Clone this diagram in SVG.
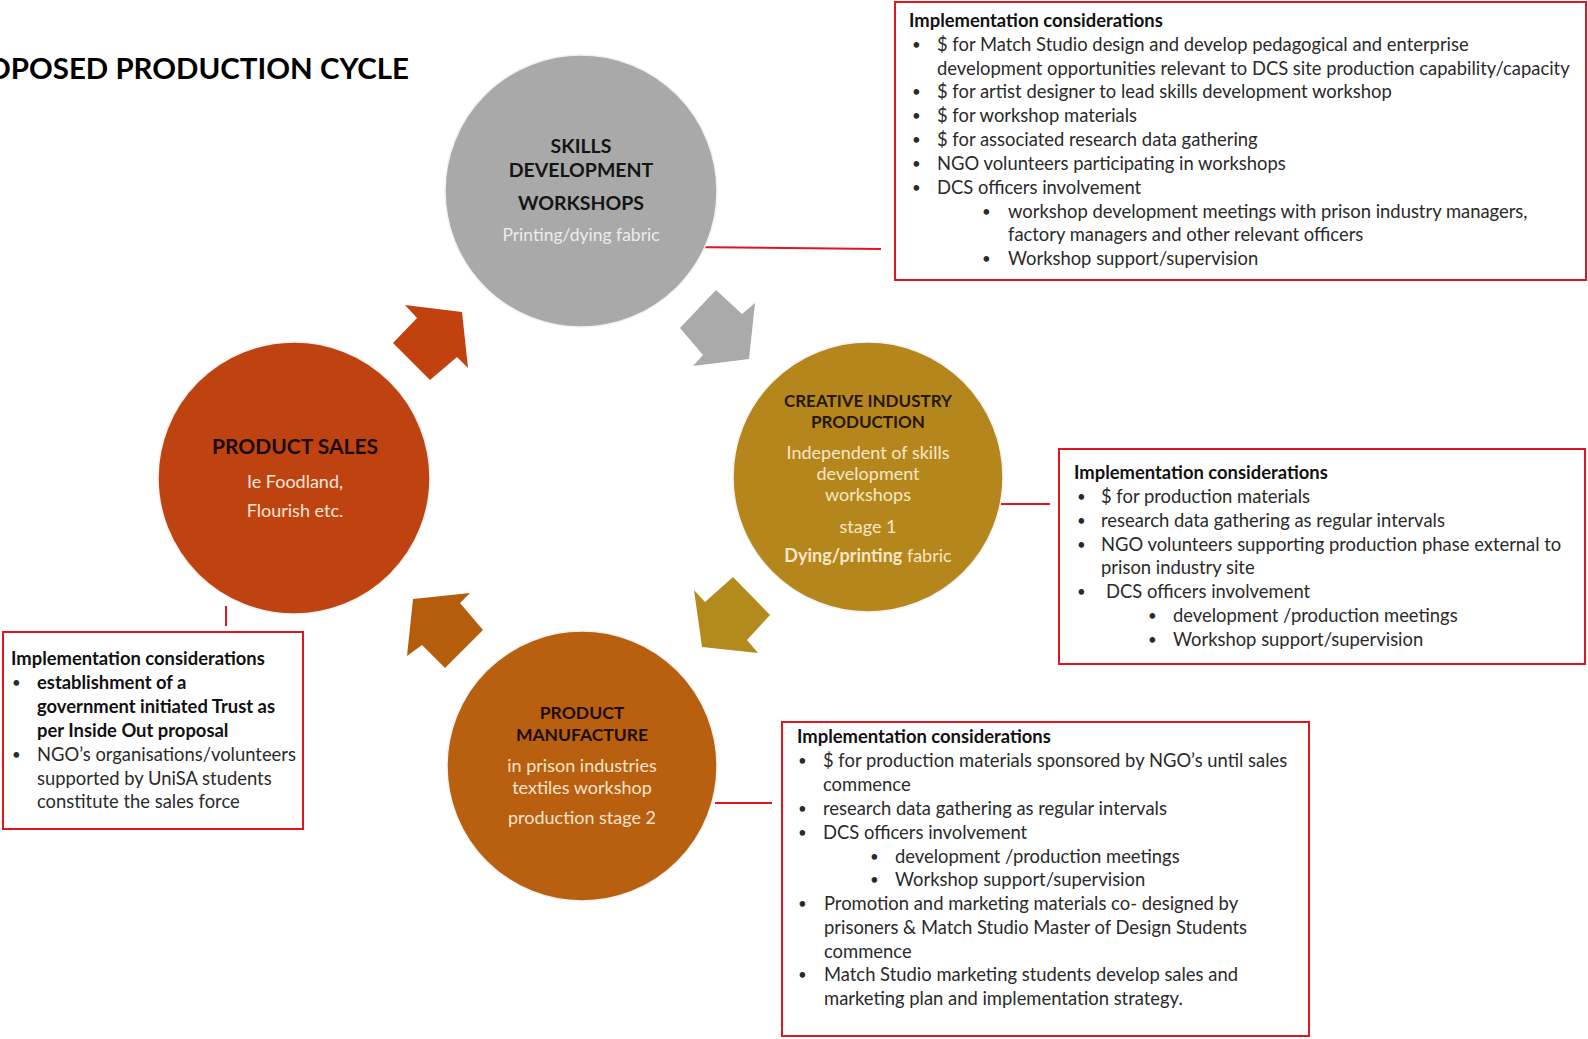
<svg xmlns="http://www.w3.org/2000/svg" width="1588" height="1039" viewBox="0 0 1588 1039">
<style>
.t{font-family:Lato,"Open Sans","Liberation Sans",sans-serif;}
.box{fill:#fff;stroke:#e3141c;stroke-width:2;}
.bt{font-family:Lato,"Liberation Sans",sans-serif;font-size:18.4px;fill:#2a2a2a;}
.bu{font-family:Lato,"Liberation Sans",sans-serif;font-size:15px;fill:#2a2a2a;}
.bh{font-weight:bold;fill:#111;}
.ch{font-family:Lato,"Liberation Sans",sans-serif;font-weight:bold;text-anchor:middle;}
.cb{font-family:Lato,"Liberation Sans",sans-serif;text-anchor:middle;}
.red{stroke:#e3141c;stroke-width:2;fill:none;}
.circ{stroke:#f2f2f2;stroke-width:1.5;}
</style>
<defs>
<clipPath id="clipSkill"><rect x="440" y="50" width="300" height="194"/></clipPath>
</defs>
<rect width="1588" height="1039" fill="#fff"/>

<text class="t" x="-50" y="79" font-size="28" font-weight="bold" fill="#000" textLength="459" lengthAdjust="spacingAndGlyphs">PROPOSED PRODUCTION CYCLE</text>

<g id="connectors">
<polygon id="arrow-sales-skills" points="405,305 462,312 468,368 457,357 430,380 393,343 417,318" fill="#c2410e"/>
<polygon id="arrow-skills-creative" points="716,290 742,314 755,303 749,359 693,366 703,355 680,328" fill="#aaaaaa"/>
<polygon id="arrow-creative-manufacture" points="733,577 770,615 747,640 758,653 702,647 694,590 705,602" fill="#b38b1d"/>
<polygon id="arrow-manufacture-sales" points="413,599 470,593 460,603 483,630 445,668 422,645 407,656" fill="#b65d0c"/>
<line class="red" x1="683" y1="247" x2="881" y2="249"/>
<line class="red" x1="998" y1="504" x2="1050" y2="504"/>
<line class="red" x1="715" y1="803" x2="772" y2="803"/>
<line class="red" x1="226" y1="606" x2="226" y2="626"/>
</g>

<g id="node-skills">
<circle class="circ" cx="581" cy="191" r="136" fill="#a9a9a9"/>
<text class="ch" x="581" y="153" font-size="19.5" fill="#151515">SKILLS</text>
<text class="ch" x="581" y="177" font-size="19.5" fill="#151515">DEVELOPMENT</text>
<text class="ch" x="581" y="210" font-size="19.5" fill="#151515">WORKSHOPS</text>
<text class="cb" x="581" y="241" font-size="17.5" fill="#ffffff" fill-opacity="0.8" clip-path="url(#clipSkill)">Printing/dying fabric</text>
</g>

<g id="node-creative">
<circle class="circ" cx="868" cy="477" r="135" fill="#b5861c"/>
<text class="ch" x="868" y="407" font-size="17" fill="#241705">CREATIVE INDUSTRY</text>
<text class="ch" x="868" y="428" font-size="17" fill="#241705">PRODUCTION</text>
<text class="cb" x="868" y="459" font-size="18" fill="#f6e7c6">Independent of skills</text>
<text class="cb" x="868" y="480" font-size="18" fill="#f6e7c6">development</text>
<text class="cb" x="868" y="501" font-size="18" fill="#f6e7c6">workshops</text>
<text class="cb" x="868" y="533" font-size="18" fill="#f6e7c6">stage 1</text>
<text class="cb" x="868" y="562" font-size="18" fill="#f6e7c6"><tspan font-weight="bold">Dying/printing</tspan>  fabric</text>
</g>

<g id="node-sales">
<circle class="circ" cx="294" cy="478" r="136" fill="#bf4311"/>
<text class="ch" x="295" y="454" font-size="21" fill="#1a0a02">PRODUCT SALES</text>
<text class="cb" x="295" y="488" font-size="18" fill="#fbe6d8">Ie Foodland,</text>
<text class="cb" x="295" y="517" font-size="18" fill="#fbe6d8">Flourish etc.</text>
</g>

<g id="node-manufacture">
<circle class="circ" cx="582" cy="766" r="135" fill="#b95f10"/>
<text class="ch" x="582" y="719" font-size="17.5" fill="#1c0e02">PRODUCT</text>
<text class="ch" x="582" y="741" font-size="17.5" fill="#1c0e02">MANUFACTURE</text>
<text class="cb" x="582" y="772" font-size="18" fill="#f8e4cc">in prison industries</text>
<text class="cb" x="582" y="794" font-size="18" fill="#f8e4cc">textiles workshop</text>
<text class="cb" x="582" y="824" font-size="18" fill="#f8e4cc">production stage 2</text>
</g>

<g id="box-skills">
<rect class="box" x="895" y="2" width="691" height="278"/>
<text class="bt" x="909" y="27"><tspan class="bh">Implementation considerations</tspan></text>
<text class="bu" x="912" y="50">•</text><text class="bt" x="937" y="51">$ for Match Studio design and develop pedagogical and  enterprise</text>
<text class="bt" x="937" y="75">development opportunities relevant to DCS site production capability/capacity</text>
<text class="bu" x="912" y="97">•</text><text class="bt" x="937" y="98">$ for artist designer to lead skills development workshop</text>
<text class="bu" x="912" y="121">•</text><text class="bt" x="937" y="122">$ for workshop materials</text>
<text class="bu" x="912" y="145">•</text><text class="bt" x="937" y="146">$ for associated research data gathering</text>
<text class="bu" x="912" y="169">•</text><text class="bt" x="937" y="170">NGO volunteers participating in workshops</text>
<text class="bu" x="912" y="193">•</text><text class="bt" x="937" y="194">DCS officers involvement</text>
<text class="bu" x="982" y="217">•</text><text class="bt" x="1008" y="218">workshop development meetings with prison industry managers,</text>
<text class="bt" x="1008" y="241">factory managers and other relevant officers</text>
<text class="bu" x="982" y="264">•</text><text class="bt" x="1008" y="265">Workshop support/supervision</text>
</g>

<g id="box-creative">
<rect class="box" x="1059" y="449" width="526" height="215"/>
<text class="bt" x="1074" y="479"><tspan class="bh">Implementation considerations</tspan></text>
<text class="bu" x="1077" y="502">•</text><text class="bt" x="1101" y="503">$ for production  materials</text>
<text class="bu" x="1077" y="526">•</text><text class="bt" x="1101" y="527">research data gathering as regular intervals</text>
<text class="bu" x="1077" y="550">•</text><text class="bt" x="1101" y="551">NGO volunteers supporting production phase external to</text>
<text class="bt" x="1101" y="574">prison industry site</text>
<text class="bu" x="1077" y="597">•</text><text class="bt" x="1106" y="598">DCS officers involvement</text>
<text class="bu" x="1148" y="621">•</text><text class="bt" x="1173" y="622">development /production meetings</text>
<text class="bu" x="1148" y="645">•</text><text class="bt" x="1173" y="646">Workshop support/supervision</text>
</g>

<g id="box-manufacture">
<rect class="box" x="782" y="722" width="527" height="314"/>
<text class="bt" x="797" y="743"><tspan class="bh">Implementation considerations</tspan></text>
<text class="bu" x="798" y="766">•</text><text class="bt" x="823" y="767">$ for production  materials sponsored by NGO’s until sales</text>
<text class="bt" x="823" y="791">commence</text>
<text class="bu" x="798" y="814">•</text><text class="bt" x="823" y="815">research data gathering as regular intervals</text>
<text class="bu" x="798" y="838">•</text><text class="bt" x="823" y="839">DCS officers involvement</text>
<text class="bu" x="870" y="862">•</text><text class="bt" x="895" y="863">development /production meetings</text>
<text class="bu" x="870" y="885">•</text><text class="bt" x="895" y="886">Workshop support/supervision</text>
<text class="bu" x="798" y="909">•</text><text class="bt" x="824" y="910">Promotion and marketing materials co- designed by</text>
<text class="bt" x="824" y="934">prisoners &amp;  Match Studio Master of Design Students</text>
<text class="bt" x="824" y="958">commence</text>
<text class="bu" x="798" y="980">•</text><text class="bt" x="824" y="981">Match Studio  marketing students develop sales and</text>
<text class="bt" x="824" y="1005">marketing plan and implementation strategy.</text>
</g>

<g id="box-sales">
<rect class="box" x="3" y="632" width="300" height="197"/>
<text class="bt" x="11" y="665"><tspan class="bh">Implementation considerations</tspan></text>
<text class="bu" x="12" y="688">•</text><text class="bt bh" x="37" y="689"> establishment of a</text>
<text class="bt bh" x="37" y="713">government initiated Trust as</text>
<text class="bt bh" x="37" y="737">per Inside Out proposal</text>
<text class="bu" x="12" y="760">•</text><text class="bt" x="37" y="761">NGO’s organisations/volunteers</text>
<text class="bt" x="37" y="785">supported by UniSA students</text>
<text class="bt" x="37" y="808">constitute the sales force</text>
</g>
</svg>
